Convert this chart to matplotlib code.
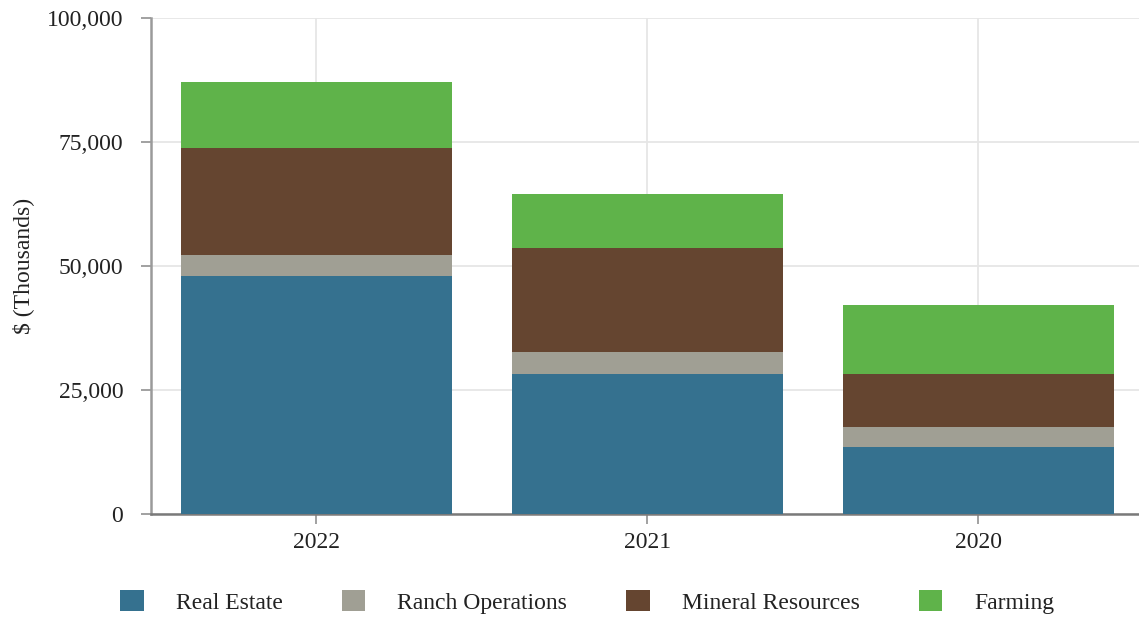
import matplotlib
matplotlib.use("Agg")
import matplotlib.pyplot as plt
import numpy as np
from matplotlib.ticker import FuncFormatter

years = ["2022", "2021", "2020"]
series_names = ["Real Estate", "Ranch Operations", "Mineral Resources", "Farming"]
real_estate = [48000, 28300, 13600]
ranch_operations = [4300, 4300, 3900]
mineral_resources = [21500, 21100, 10700]
farming = [13300, 10800, 14000]
colors = ["#35718F", "#A09F94", "#654530", "#5FB34A"]
yticks = [0, 25000, 50000, 75000, 100000]

plt.rcParams['font.family'] = ['Liberation Serif', 'DejaVu Serif']

fig = plt.figure(figsize=(11.39, 6.2), dpi=100)
ax = fig.add_axes([151/1139, 106/620, 1 - 151/1139, (514-18)/620])

x = np.arange(len(years))
bottom = np.zeros(len(years))
handles = []
for name, vals, c in zip(series_names,
                         [real_estate, ranch_operations, mineral_resources, farming],
                         colors):
    h = ax.bar(x, vals, width=0.82, bottom=bottom, color=c, label=name, zorder=3)
    handles.append(h)
    bottom += np.array(vals)

ax.set_xlim(-0.5, 2.485)
ax.set_ylim(0, 100000)
ax.set_yticks(yticks)
ax.yaxis.set_major_formatter(FuncFormatter(lambda v, p: f"{int(v):,}"))
ax.set_xticks(x)
ax.set_xticklabels(years)

ax.grid(True, color="#e6e6e6", linewidth=1.3, zorder=0)
ax.set_axisbelow(True)
for s in ["top", "right"]:
    ax.spines[s].set_visible(False)
ax.spines["left"].set_color("#9a9a9a")
ax.spines["left"].set_linewidth(1.8)
ax.spines["bottom"].set_color("#7a7a7a")
ax.spines["bottom"].set_linewidth(1.8)

ax.tick_params(axis="y", length=7, width=1.3, color="#9a9a9a", labelsize=17, pad=13, labelcolor="#222222")
ax.tick_params(axis="x", length=7, width=1.3, color="#9a9a9a", labelsize=17, pad=6, labelcolor="#222222")
ax.set_ylabel("$ (Thousands)", fontsize=17, color="#222222", labelpad=9)

fig.legend(handles=handles, labels=series_names, loc="center left",
           bbox_to_anchor=(120/1139, 18/620), ncol=4, frameon=False,
           fontsize=17, handlelength=1.0, handleheight=1.0,
           handletextpad=1.36, columnspacing=2.5, borderpad=0, borderaxespad=0,
           labelcolor="#222222")

fig.savefig("out.png", dpi=100)
